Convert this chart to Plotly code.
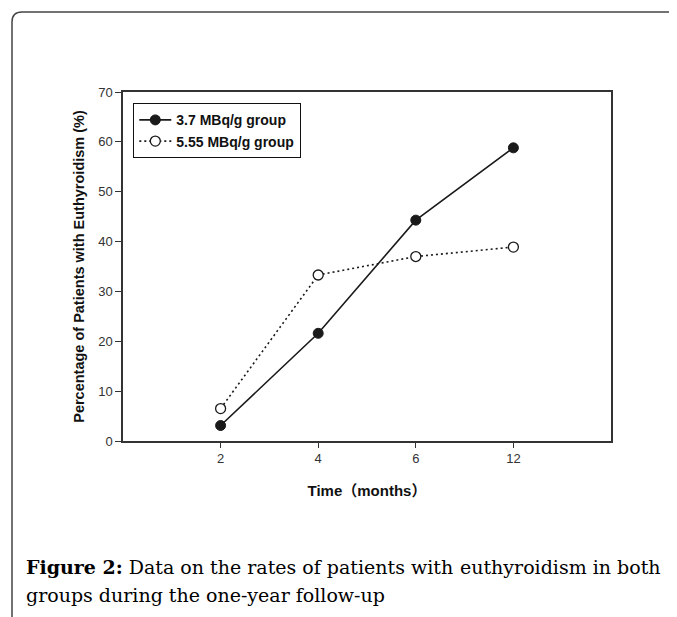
import plotly.graph_objects as go

# ---- data ----
months = ["2", "4", "6", "12"]
group_37 = [3.1, 21.6, 44.3, 58.8]
group_555 = [6.5, 33.3, 37.0, 38.9]
series_names = ["3.7 MBq/g group", "5.55 MBq/g group"]
y_ticks = [0, 10, 20, 30, 40, 50, 60, 70]

OFF = 8  # page body margin
W, H = 677 - OFF, 617 - OFF
L, R, T, B = 123 - OFF, 611 - OFF, 92 - OFF, 441 - OFF  # plot area in figure pixels


def px(x):  # reference-screen pixel -> paper
    return (x - OFF - L) / (R - L)


def py(y):
    return (B - (y - OFF)) / (B - T)


pos = list(range(1, len(months) + 1))

fig = go.Figure()
fig.add_trace(go.Scatter(
    x=pos, y=group_37, name=series_names[0], mode="lines+markers",
    line=dict(color="#1a1a1a", width=1.6),
    marker=dict(symbol="circle", size=10, color="#1a1a1a",
                line=dict(color="#1a1a1a", width=1)),
))
fig.add_trace(go.Scatter(
    x=pos, y=group_555, name=series_names[1], mode="lines+markers",
    line=dict(color="#1a1a1a", width=1.6, dash="2px,3px"),
    marker=dict(symbol="circle", size=10, color="white",
                line=dict(color="#1a1a1a", width=1.3)),
))

axis_common = dict(
    showline=True, linecolor="#333", linewidth=1.5, mirror=True,
    ticks="outside", tickcolor="#333", tickwidth=1,
    showgrid=False, zeroline=False,
    tickfont=dict(family="Liberation Sans, Arial", size=13, color="#333"),
)

fig.update_layout(
    width=W, height=H,
    margin=dict(l=L, r=W - R, t=T, b=H - B, pad=0),
    paper_bgcolor="white", plot_bgcolor="white",
    showlegend=True,
    legend=dict(
        x=px(133), y=py(103), xanchor="left", yanchor="top",
        bordercolor="#111", borderwidth=1.3, bgcolor="white",
        font=dict(family="Liberation Sans, Arial", size=14, color="#111", weight="bold"),
        itemwidth=32, tracegroupgap=0,
    ),
    xaxis=dict(
        **axis_common, range=[0, 5], tickvals=pos, ticktext=months, ticklen=5,
        title=dict(text="Time（months）", standoff=20,
                   font=dict(family="Liberation Sans, Noto Sans CJK SC", size=15,
                             color="#111", weight="bold")),
    ),
    yaxis=dict(
        **axis_common, range=[0, 70], tickvals=y_ticks, ticklen=6,
        title=dict(text="Percentage of Patients with Euthyroidism (%)", standoff=10,
                   font=dict(family="Liberation Sans, Arial", size=14.5,
                             color="#111", weight="bold")),
    ),
)

# outer frame with rounded top-left corner
fl, ft, r = 12, 12, 10
path = (f"M {px(fl)} {py(630)} L {px(fl)} {py(ft + r)} "
        f"Q {px(fl)} {py(ft)} {px(fl + r)} {py(ft)} L {px(690)} {py(ft)}")
fig.add_shape(type="path", path=path, xref="paper", yref="paper",
              line=dict(color="#444", width=1.5), layer="above")

cap_font = dict(family="DejaVu Serif", size=19, color="#000")
# justified first line: left part and right part
fig.add_annotation(
    text="<b>Figure 2:</b> Data on the rates of patients with",
    x=px(24), y=py(567), xref="paper", yref="paper", xanchor="left", yanchor="middle",
    showarrow=False, font=cap_font,
)
fig.add_annotation(
    text="euthyroidism in both",
    x=px(663), y=py(567), xref="paper", yref="paper", xanchor="right", yanchor="middle",
    showarrow=False, font=cap_font,
)
fig.add_annotation(
    text="groups during the one-year follow-up",
    x=px(24), y=py(595), xref="paper", yref="paper", xanchor="left", yanchor="middle",
    showarrow=False, font=cap_font,
)

fig.write_html("out.html")
